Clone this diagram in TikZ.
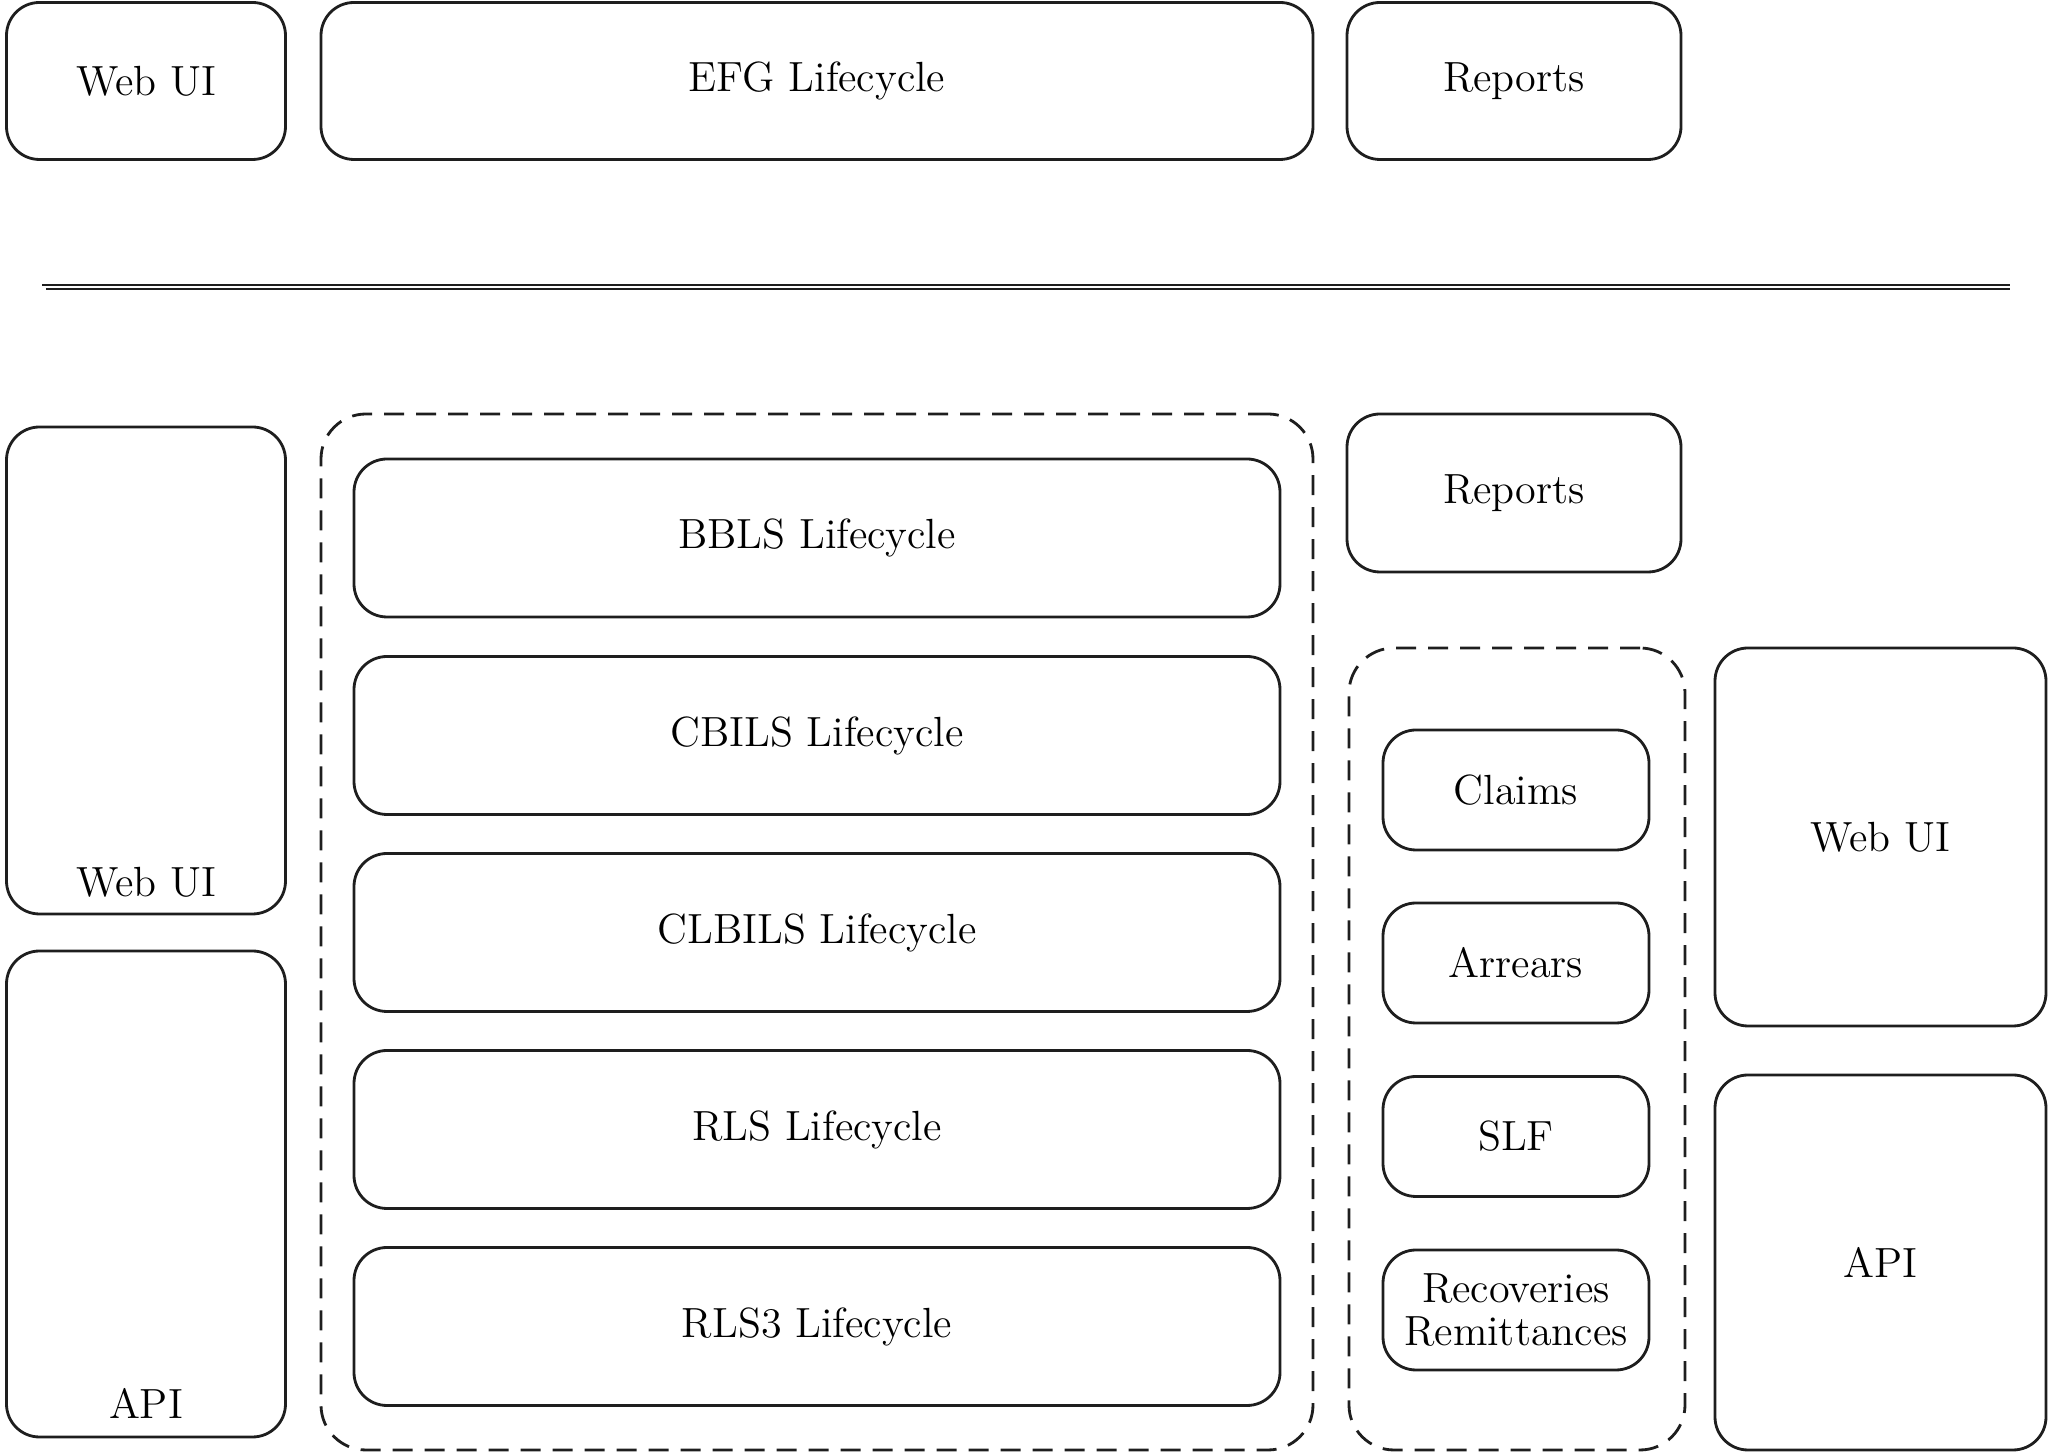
\documentclass[tikz,border=0pt]{standalone}
\usepackage{tikz}
\usetikzlibrary{positioning}

\begin{document}
\begin{tikzpicture}[
    box/.style={draw=borderColour, line width=0.8pt, rounded corners=0.33cm, font=\large},
    groupbox/.style={draw=borderColour, line width=0.8pt, rounded corners=0.45cm, dash pattern=on 0.2cm off 0.12cm},
    lifebox/.style={box, minimum width=9.26cm, minimum height=1.58cm},
    modbox/.style={box, minimum width=2.66cm, minimum height=1.2cm, align=center}
]
    \definecolor{borderColour}{HTML}{1E1E1E}

    \useasboundingbox (0,0) rectangle (20.54,-14.56);

    % Top row
    \node[box, minimum width=2.79cm, minimum height=1.57cm] (webTop) at (1.46,-0.81) {Web UI};
    \node[box, minimum width=9.92cm, minimum height=1.57cm] (efg) at (8.17,-0.81) {EFG Lifecycle};
    \node[box, minimum width=3.34cm, minimum height=1.57cm] (repTop) at (15.14,-0.81) {Reports};

    % Divider
    \coordinate (divA) at (0.42,-2.85);
    \coordinate (divB) at (20.10,-2.85);
    \draw[borderColour, line width=0.8pt] (divA) -- (divB);
    \draw[borderColour, line width=0.8pt] ([shift={(0.04,-0.04)}]divA) -- ([shift={(0,-0.04)}]divB);

    % Left column
    \node[box, minimum width=2.79cm, minimum height=4.87cm] (webL) at (1.46,-6.705) {};
    \node[font=\large] (webLtext) at (1.46,-8.82) {Web UI};
    \node[box, minimum width=2.79cm, minimum height=4.86cm] (apiL) at (1.46,-11.94) {};
    \node[font=\large] (apiLtext) at (1.46,-14.03) {API};

    % Lifecycles
    \node[groupbox, minimum width=9.92cm, minimum height=10.36cm] (lifeGroup) at (8.17,-9.32) {};
    \node[lifebox] (bbls) at (8.17,-5.38) {BBLS Lifecycle};
    \node[lifebox] (cbils) at (8.17,-7.355) {CBILS Lifecycle};
    \node[lifebox] (clbils) at (8.17,-9.325) {CLBILS Lifecycle};
    \node[lifebox] (rls) at (8.17,-11.295) {RLS Lifecycle};
    \node[lifebox] (rlsthree) at (8.17,-13.265) {RLS3 Lifecycle};

    % Reports and modules
    \node[box, minimum width=3.34cm, minimum height=1.58cm] (repBot) at (15.14,-4.93) {Reports};
    \node[groupbox, minimum width=3.36cm, minimum height=8.02cm] (modGroup) at (15.17,-10.49) {};
    \node[modbox] (claims) at (15.16,-7.90) {Claims};
    \node[modbox] (arrears) at (15.16,-9.63) {Arrears};
    \node[modbox] (slf) at (15.16,-11.365) {SLF};
    \node[modbox, inner sep=1pt] (recov) at (15.16,-13.10) {Recoveries\\[-2pt]Remittances};

    % Right column
    \node[box, minimum width=3.31cm, minimum height=3.78cm] (webR) at (18.805,-8.37) {Web UI};
    \node[box, minimum width=3.31cm, minimum height=3.75cm] (apiR) at (18.805,-12.625) {API};

\end{tikzpicture}
\end{document}
